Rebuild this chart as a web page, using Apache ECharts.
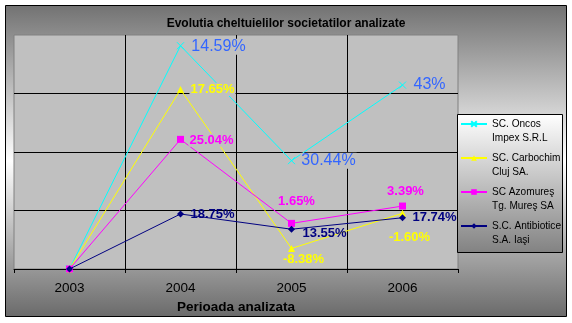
<!DOCTYPE html>
<html>
<head>
<meta charset="utf-8">
<script src="https://cdn.jsdelivr.net/npm/echarts@6/dist/echarts.min.js"></script>
<style>
  html, body { margin: 0; padding: 0; background: #fff; }
  #chart { width: 572px; height: 323px; }
</style>
</head>
<body>
<div id="chart"></div>
<script>
// Years on the horizontal axis
const years = ['2003', '2004', '2005', '2006'];

// Series names (two-line legend entries)
const seriesNames = [
  'SC. Oncos\nImpex S.R.L',
  'SC. Carbochim\nCluj SA.',
  'SC Azomureş\nTg. Mureş SA',
  'S.C. Antibiotice\nS.A. Iaşi'
];

// Plotted expense index per company
const oncosValues = [0, 95.4, 46.3, 78.6];
const carbochimValues = [0, 76.7, 8.8, 23.8];
const azomuresValues = [0, 55.4, 19.5, 26.9];
const antibioticeValues = [0, 23.5, 17.0, 21.9];

// Growth-rate labels written next to each point
const oncosLabels = ['', '14.59%', '30.44%', '43%'];
const carbochimLabels = ['', '17.65%', '-8.38%', '-1.60%'];
const azomuresLabels = ['', '25.04%', '1.65%', '3.39%'];
const antibioticeLabels = ['', '18.75%', '13.55%', '17.74%'];

const FONT = '"Liberation Sans", Arial, sans-serif';

// Label placement relative to each marker
const oncosOffsets = [[0, 0], [38, 1], [37, 0], [27, 0]];
const carbochimOffsets = [[0, 0], [32, 0], [12, 11], [7, 24]];
const azomuresOffsets = [[0, 0], [31, 1], [5, -22], [3, -15]];
const antibioticeOffsets = [[0, 0], [32, 0], [33, 4], [32, 0]];

function makeSeries(name, values, labels, offsets, color, labelColor, symbol, labelFont, labelBg, z) {
  return {
    name: name,
    type: 'line',
    z: z,
    data: values.map((v, i) => ({ value: v, label: { offset: offsets[i] } })),
    symbol: symbol,
    symbolSize: 7,
    showAllSymbol: true,
    lineStyle: { color: color, width: 1 },
    itemStyle: { color: color, borderColor: color, borderWidth: symbol.indexOf('path://') === 0 ? 1 : 0 },
    emphasis: { disabled: true },
    label: {
      show: true,
      position: 'inside',
      align: 'center',
      verticalAlign: 'middle',
      color: labelColor,
      fontFamily: FONT,
      fontSize: labelFont.size,
      fontWeight: labelFont.weight,
      backgroundColor: labelBg,
      padding: [0, 1],
      formatter: p => labels[p.dataIndex]
    }
  };
}

const chart = echarts.init(document.getElementById('chart'), null, { renderer: 'canvas' });

chart.setOption({
  animation: false,
  backgroundColor: '#ffffff',
  graphic: {
    elements: [
      {
        type: 'rect',
        z: -10,
        shape: { x: 5.5, y: 5.5, width: 561, height: 311 },
        style: {
          fill: new echarts.graphic.LinearGradient(0, 0, 0, 1, [
            { offset: 0, color: '#727272' },
            { offset: 0.5, color: '#ffffff' },
            { offset: 1, color: '#6a6a6a' }
          ]),
          stroke: '#000000',
          lineWidth: 1
        }
      },
      {
        type: 'rect',
        z: 4,
        shape: { x: 457.5, y: 114.5, width: 105, height: 138 },
        style: {
          fill: new echarts.graphic.LinearGradient(0, 0, 0, 1, [
            { offset: 0, color: '#ffffff' },
            { offset: 1, color: '#828282' }
          ]),
          stroke: '#000000',
          lineWidth: 1
        }
      }
    ]
  },
  title: {
    text: 'Evolutia cheltuielilor societatilor analizate',
    left: 'center',
    top: 17,
    padding: 0,
    textStyle: { fontFamily: FONT, fontSize: 12, fontWeight: 'bold', color: '#000', lineHeight: 14 }
  },
  legend: {
    orient: 'vertical',
    left: 460,
    top: 103,
    padding: 0,
    itemWidth: 26,
    itemHeight: 7,
    itemGap: -8,
    z: 5,
    data: seriesNames,
    formatter: name => ' \n' + name,
    textStyle: { fontFamily: FONT, fontSize: 10.1, color: '#000', lineHeight: 14 }
  },
  grid: {
    left: 14, right: 114, top: 35, bottom: 54,
    show: true,
    backgroundColor: '#c0c0c0',
    borderColor: '#808080',
    borderWidth: 1
  },
  xAxis: {
    type: 'category',
    data: years,
    boundaryGap: true,
    name: 'Perioada analizata',
    nameLocation: 'middle',
    nameGap: 31,
    nameTextStyle: { fontFamily: FONT, fontSize: 13.5, fontWeight: 'bold', color: '#000' },
    axisLine: { lineStyle: { color: '#000', width: 1 } },
    axisTick: { show: true, length: 4, lineStyle: { color: '#000' } },
    axisLabel: { fontFamily: FONT, fontSize: 13.5, color: '#000', margin: 12 },
    splitLine: { show: true, showMinLine: false, showMaxLine: false, lineStyle: { color: '#000', width: 1 } }
  },
  yAxis: {
    type: 'value',
    min: 0, max: 100, interval: 25,
    axisLine: { show: false },
    axisTick: { show: false },
    axisLabel: { show: false },
    splitLine: { show: true, showMinLine: false, showMaxLine: false, lineStyle: { color: '#000', width: 1 } }
  },
  series: [
    makeSeries(seriesNames[0], oncosValues, oncosLabels, oncosOffsets, '#00ffff', '#3366ff',
      'path://M0,0L10,10M10,0L0,10', { size: 16, weight: 'normal' }, '#c0c0c0', 2),
    makeSeries(seriesNames[1], carbochimValues, carbochimLabels, carbochimOffsets, '#ffff00', '#ffff00',
      'triangle', { size: 13, weight: 'bold' }, '#c0c0c0', 2.1),
    makeSeries(seriesNames[2], azomuresValues, azomuresLabels, azomuresOffsets, '#ff00ff', '#ff00ff',
      'rect', { size: 13, weight: 'bold' }, '#c0c0c0', 2.2),
    makeSeries(seriesNames[3], antibioticeValues, antibioticeLabels, antibioticeOffsets, '#000080', '#000080',
      'diamond', { size: 13, weight: 'bold' }, 'transparent', 2.3)
  ]
});
</script>
</body>
</html>
